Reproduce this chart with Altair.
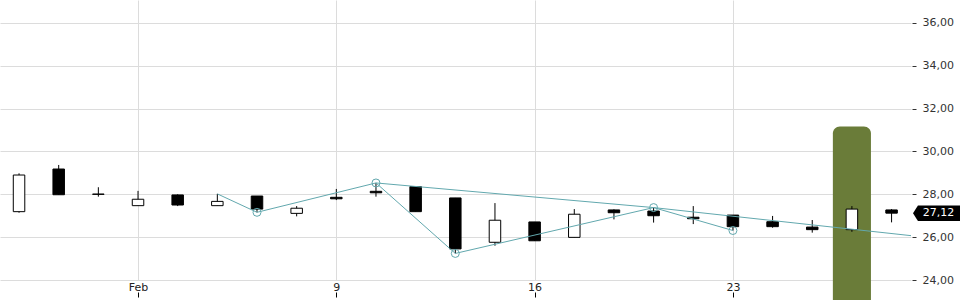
import altair as alt
import pandas as pd

# ---- data ----
dates = ["Jan 28", "Jan 29", "Jan 30", "Feb 2", "Feb 3", "Feb 4", "Feb 5", "Feb 6",
         "Feb 9", "Feb 10", "Feb 11", "Feb 12", "Feb 13", "Feb 16", "Feb 17", "Feb 18",
         "Feb 19", "Feb 20", "Feb 23", "Feb 24", "Feb 25", "Feb 26", "Feb 27"]
opens = [27.19, 29.18, 28.01, 27.47, 27.97, 27.47, 27.92, 27.11, 27.86, 28.14, 28.36, 27.83,
         25.76, 26.71, 25.99, 27.27, 27.22, 26.93, 27.03, 26.72, 26.47, 26.35, 27.27]
closes = [28.90, 27.98, 28.00, 27.77, 27.50, 27.67, 27.31, 27.35, 27.79, 28.07, 27.19, 25.45,
          26.79, 25.83, 27.07, 27.14, 27.00, 26.86, 26.49, 26.49, 26.35, 27.31, 27.12]
highs = [28.98, 29.37, 28.33, 28.16, 28.00, 28.02, 27.92, 27.45, 28.25, 28.53, 28.36, 27.83,
         27.59, 26.71, 27.31, 27.30, 27.38, 27.45, 27.03, 26.99, 26.80, 27.45, 27.31]
lows = [27.14, 27.98, 27.89, 27.47, 27.45, 27.47, 27.16, 26.97, 27.73, 27.89, 27.19, 25.24,
        25.60, 25.83, 25.99, 26.83, 26.68, 26.61, 26.31, 26.44, 26.21, 26.25, 26.69]

tick_idx = [3, 8, 13, 18]
tick_labels = ["Feb", "9", "16", "23"]
y_ticks = [24, 26, 28, 30, 32, 34, 36]

# zig-zag pivot line
zz_idx = [5, 6, 9, 11, 16, 18]
zz_val = [28.02, 27.16, 28.53, 25.24, 27.38, 26.31]
# upper trend line
tl_idx = [9, 16, 22.49]
tl_val = [28.53, 27.38, 26.07]

hl_idx = 21
hl_top = 31.17
last_price = closes[-1]

TEAL = "#62a8ae"
GRID = "#dcdcdc"
FONT = "DejaVu Sans"

df = pd.DataFrame({"i": list(range(len(dates))), "date": dates, "open": opens,
                   "close": closes, "high": highs, "low": lows})

xs = alt.Scale(domain=[-0.48, 22.49], nice=False, zero=False)
ys = alt.Scale(domain=[24, 37.07], nice=False, zero=False)

label_expr = " : ".join(f"datum.value == {v} ? '{l}'" for v, l in zip(tick_idx, tick_labels)) + " : ''"

x_axis = alt.Axis(values=tick_idx, labelExpr=label_expr, grid=True, gridColor=GRID,
                  domain=False, tickSize=5, tickColor="#000", labelPadding=-7,
                  labelBaseline="alphabetic", offset=12, labelFont=FONT, labelFontSize=11,
                  labelColor="#222", title=None)
y_axis = alt.Axis(orient="right", values=y_ticks,
                  labelExpr="replace(format(datum.value, '.2f'), '.', ',')",
                  grid=True, gridColor=GRID, domain=False, tickSize=4, tickColor="#333",
                  labelPadding=6, offset=1, labelFont=FONT, labelFontSize=11,
                  labelColor="#333", title=None)


def X(field):
    return alt.X(field, scale=xs, axis=x_axis, title=None)


def Y(field):
    return alt.Y(field, scale=ys, axis=y_axis, title=None)


hl_df = pd.DataFrame({"i": [hl_idx], "top": [hl_top]})
highlight = alt.Chart(hl_df).transform_calculate(
    xa="datum.i - 0.48", xb="datum.i + 0.48", bot="22.5"
).mark_rect(color="#6a7c39", cornerRadius=7).encode(
    x=X("xa:Q"), x2="xb:Q", y=Y("top:Q"), y2="bot:Q")

wicks = alt.Chart(df).mark_rule(color="black", strokeWidth=1).encode(
    x=X("i:Q"), y=Y("low:Q"), y2="high:Q")

bodies = alt.Chart(df).transform_calculate(
    xa="datum.i - 0.145", xb="datum.i + 0.145"
).mark_rect(stroke="black", strokeWidth=1).encode(
    x=X("xa:Q"), x2="xb:Q", y=Y("open:Q"), y2="close:Q",
    fill=alt.condition("datum.close >= datum.open", alt.value("white"), alt.value("black")))

lines_df = pd.concat([
    pd.DataFrame({"g": "zz", "k": range(len(zz_idx)), "x": zz_idx, "v": zz_val}),
    pd.DataFrame({"g": "tl", "k": range(len(tl_idx)), "x": tl_idx, "v": tl_val}),
])
lines = alt.Chart(lines_df).mark_line(color=TEAL, strokeWidth=1).encode(
    x=X("x:Q"), y=Y("v:Q"), detail="g:N", order="k:Q")

piv_df = pd.DataFrame({"x": zz_idx[1:], "v": zz_val[1:]})
pivots = alt.Chart(piv_df).mark_point(shape="circle", filled=False, color=TEAL,
                                      size=64, strokeWidth=1, opacity=1).encode(
    x=X("x:Q"), y=Y("v:Q"))

lp_df = pd.DataFrame({"p": [last_price]})
tag_path = "M -1 0 L -0.79 -0.33 L 1 -0.33 L 1 0.33 L -0.79 0.33 Z"
tag = alt.Chart(lp_df).mark_point(shape=tag_path, size=2209, filled=True, color="black",
                                  opacity=1, strokeWidth=0).encode(
    x=alt.value(936.5), y=Y("p:Q"))
tag_text = alt.Chart(lp_df).transform_calculate(
    t="replace(format(datum.p, '.2f'), '.', ',')"
).mark_text(color="white", font=FONT, fontSize=11, align="center", baseline="middle").encode(
    x=alt.value(938.5), y=Y("p:Q"), text="t:N")

chart = alt.layer(highlight, wicks, bodies, lines, pivots, tag, tag_text).properties(
    width=911, height=280,
    autosize=alt.AutoSizeParams(type="none"),
    padding={"left": 0, "top": 0, "right": 49, "bottom": 20},
    background="white",
).configure_view(stroke=None)

chart.save("out.html", embed_options={"renderer": "svg", "actions": False})
